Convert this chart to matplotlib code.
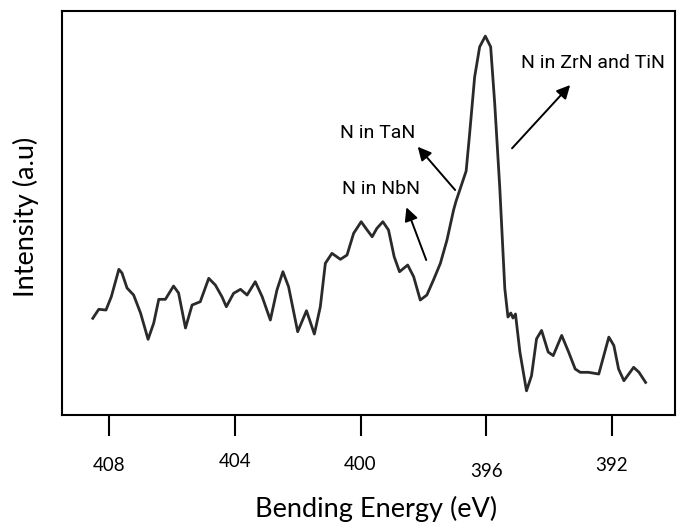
import matplotlib
matplotlib.use("Agg")
import matplotlib.pyplot as plt
import matplotlib.transforms as mtransforms

plt.rcParams['font.family'] = ['Lato', 'DejaVu Sans']

# N 1s spectrum, binding energy (eV) vs intensity (a.u.)
energy = [408.52, 408.33, 408.10, 407.93, 407.69, 407.59, 407.43, 407.22, 407.00, 406.76,
          406.58, 406.42, 406.21, 405.95, 405.79, 405.57, 405.36, 405.10, 404.83, 404.62,
          404.41, 404.27, 404.04, 403.82, 403.61, 403.35, 403.13, 402.87, 402.66, 402.47,
          402.29, 402.00, 401.72, 401.47, 401.28, 401.12, 400.91, 400.64, 400.43, 400.22,
          399.98, 399.79, 399.63, 399.48, 399.29, 399.11, 398.93, 398.76, 398.50, 398.31,
          398.10, 397.89, 397.68, 397.46, 397.25, 397.04, 396.96, 396.64, 396.53, 396.37,
          396.21, 396.03, 395.86, 395.73, 395.57, 395.41, 395.31, 395.22, 395.15, 395.07,
          394.93, 394.72, 394.56, 394.40, 394.24, 394.03, 393.87, 393.60, 393.38, 393.17,
          393.01, 392.75, 392.42, 392.10, 391.94, 391.79, 391.62, 391.31, 391.14, 390.93]
intensity = [96.7, 105.7, 105.0, 118.3, 145.7, 142.0, 127.0, 120.0, 102.0, 75.7,
             92.0, 115.7, 115.7, 129.0, 122.0, 87.0, 110.0, 113.3, 136.7, 130.0,
             118.3, 108.3, 121.7, 125.7, 120.0, 133.3, 118.3, 95.0, 125.0, 143.3,
             128.3, 83.3, 104.3, 81.0, 108.3, 151.7, 161.7, 155.7, 160.0, 181.7,
             193.3, 185.0, 178.3, 186.7, 193.3, 185.0, 158.3, 143.3, 150.0, 138.3,
             115.0, 120.0, 135.0, 151.7, 175.0, 205.0, 214.0, 244.0, 281.0, 338.0,
             368.2, 378.9, 368.2, 311.1, 227.2, 126.5, 98.0, 102.0, 97.0, 101.0,
             63.0, 24.2, 39.3, 76.2, 84.6, 63.0, 59.4, 79.6, 63.0, 46.0,
             42.7, 42.7, 41.0, 77.9, 69.5, 46.0, 34.3, 47.7, 42.7, 32.6]

xticks = [408, 404, 400, 396, 392]

fig = plt.figure(figsize=(6.84, 5.26), dpi=100)
ax = fig.add_axes([0.0906, 0.211, 0.896, 0.768])

ax.plot(energy, intensity, color='#2a2a2a', lw=2.0, solid_joinstyle='round')

ax.set_xlim(409.5, 390.0)
ax.set_ylim(0, 404)
ax.set_yticks([])
ax.set_xticks(xticks)
ax.set_xticklabels([str(t) for t in xticks])
ax.tick_params(axis='x', direction='out', length=15, width=1.5, pad=15,
               labelsize=13.5, colors='black')
for s in ax.spines.values():
    s.set_linewidth(1.5)

# hand-placed labels sit a little unevenly
shifts = {404: 4, 400: 1, 396: -6, 392: 0, 408: 0}
for t, lab in zip(xticks, ax.get_xticklabels()):
    off = mtransforms.ScaledTranslation(0, shifts[t] / 100, fig.dpi_scale_trans)
    lab.set_transform(lab.get_transform() + off)

ax.set_xlabel('Bending Energy (eV)', fontsize=19.5)
ax.set_ylabel('Intensity (a.u)', fontsize=19.5)
ax.xaxis.set_label_coords(0.512, -0.2)
ax.yaxis.set_label_coords(-0.038, 0.49)

arrow = dict(arrowstyle='-|>', color='black', lw=1.4, mutation_scale=20,
             shrinkA=0, shrinkB=0)
note_font = dict(family=['Roboto', 'DejaVu Sans'], fontsize=14, color='black')

ax.annotate('', xy=(393.33, 330), xytext=(395.18, 266.7), arrowprops=arrow)
ax.annotate('', xy=(398.18, 268.3), xytext=(396.99, 225), arrowprops=arrow)
ax.annotate('', xy=(398.54, 207.7), xytext=(397.91, 155), arrowprops=arrow)

ax.text(392.60, 352, 'N in ZrN and TiN', ha='center', va='center', **note_font)
ax.text(399.47, 282, 'N in TaN', ha='center', va='center', **note_font)
ax.text(399.34, 226, 'N in NbN', ha='center', va='center', **note_font)

fig.savefig('out.png', dpi=100)
